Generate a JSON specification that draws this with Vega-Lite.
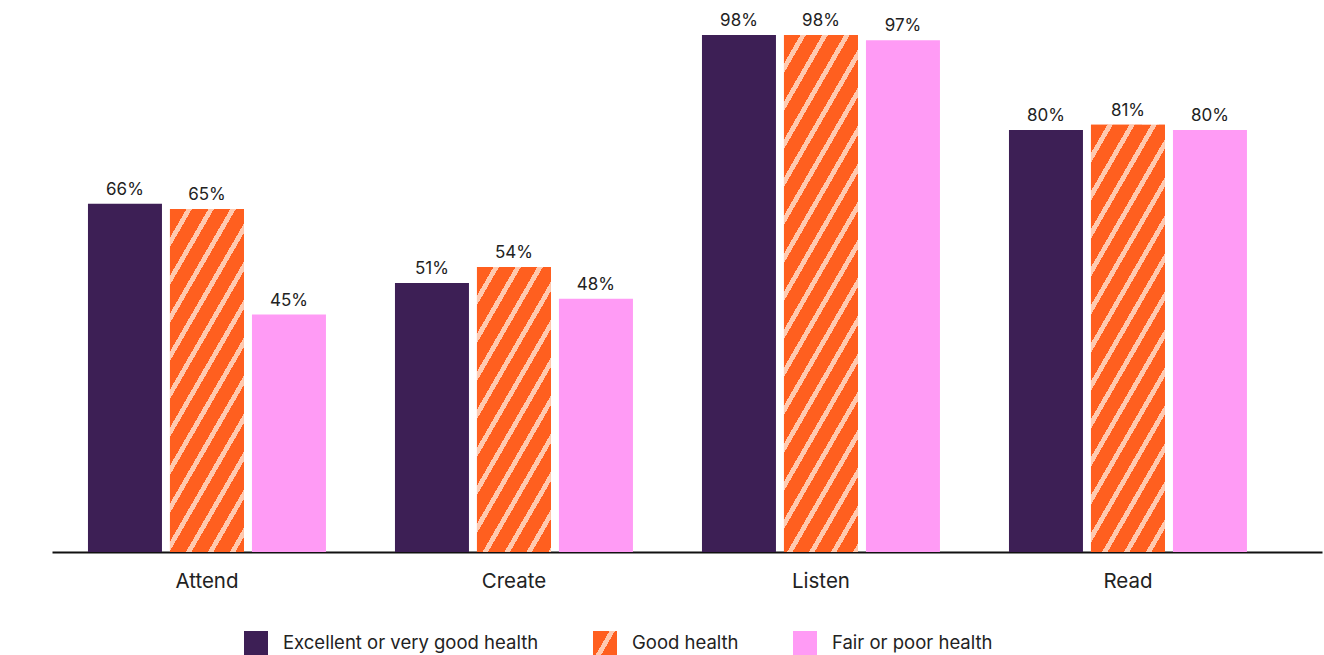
{
  "$schema": "https://vega.github.io/schema/vega-lite/v6.json",
  "width": 1270,
  "height": 527.6,
  "autosize": "none",
  "padding": {"left": 52, "top": 24.4, "right": 2, "bottom": 103},
  "background": "white",
  "config": {
    "view": {"stroke": null},
    "font": "Inter",
    "text": {"font": "Inter"}
  },
  "params": [
    {
      "name": "stripeStops",
      "value": [
        {"offset": 0, "color": "#FF5F1F"}, {"offset": 0.03125, "color": "#FF5F1F"}, {"offset": 0.03125, "color": "#FFC9AF"}, {"offset": 0.041667, "color": "#FFC9AF"},
        {"offset": 0.041667, "color": "#FF5F1F"}, {"offset": 0.072917, "color": "#FF5F1F"}, {"offset": 0.072917, "color": "#FFC9AF"}, {"offset": 0.083333, "color": "#FFC9AF"},
        {"offset": 0.083333, "color": "#FF5F1F"}, {"offset": 0.114583, "color": "#FF5F1F"}, {"offset": 0.114583, "color": "#FFC9AF"}, {"offset": 0.125, "color": "#FFC9AF"},
        {"offset": 0.125, "color": "#FF5F1F"}, {"offset": 0.15625, "color": "#FF5F1F"}, {"offset": 0.15625, "color": "#FFC9AF"}, {"offset": 0.166667, "color": "#FFC9AF"},
        {"offset": 0.166667, "color": "#FF5F1F"}, {"offset": 0.197917, "color": "#FF5F1F"}, {"offset": 0.197917, "color": "#FFC9AF"}, {"offset": 0.208333, "color": "#FFC9AF"},
        {"offset": 0.208333, "color": "#FF5F1F"}, {"offset": 0.239583, "color": "#FF5F1F"}, {"offset": 0.239583, "color": "#FFC9AF"}, {"offset": 0.25, "color": "#FFC9AF"},
        {"offset": 0.25, "color": "#FF5F1F"}, {"offset": 0.28125, "color": "#FF5F1F"}, {"offset": 0.28125, "color": "#FFC9AF"}, {"offset": 0.291667, "color": "#FFC9AF"},
        {"offset": 0.291667, "color": "#FF5F1F"}, {"offset": 0.322917, "color": "#FF5F1F"}, {"offset": 0.322917, "color": "#FFC9AF"}, {"offset": 0.333333, "color": "#FFC9AF"},
        {"offset": 0.333333, "color": "#FF5F1F"}, {"offset": 0.364583, "color": "#FF5F1F"}, {"offset": 0.364583, "color": "#FFC9AF"}, {"offset": 0.375, "color": "#FFC9AF"},
        {"offset": 0.375, "color": "#FF5F1F"}, {"offset": 0.40625, "color": "#FF5F1F"}, {"offset": 0.40625, "color": "#FFC9AF"}, {"offset": 0.416667, "color": "#FFC9AF"},
        {"offset": 0.416667, "color": "#FF5F1F"}, {"offset": 0.447917, "color": "#FF5F1F"}, {"offset": 0.447917, "color": "#FFC9AF"}, {"offset": 0.458333, "color": "#FFC9AF"},
        {"offset": 0.458333, "color": "#FF5F1F"}, {"offset": 0.489583, "color": "#FF5F1F"}, {"offset": 0.489583, "color": "#FFC9AF"}, {"offset": 0.5, "color": "#FFC9AF"},
        {"offset": 0.5, "color": "#FF5F1F"}, {"offset": 0.53125, "color": "#FF5F1F"}, {"offset": 0.53125, "color": "#FFC9AF"}, {"offset": 0.541667, "color": "#FFC9AF"},
        {"offset": 0.541667, "color": "#FF5F1F"}, {"offset": 0.572917, "color": "#FF5F1F"}, {"offset": 0.572917, "color": "#FFC9AF"}, {"offset": 0.583333, "color": "#FFC9AF"},
        {"offset": 0.583333, "color": "#FF5F1F"}, {"offset": 0.614583, "color": "#FF5F1F"}, {"offset": 0.614583, "color": "#FFC9AF"}, {"offset": 0.625, "color": "#FFC9AF"},
        {"offset": 0.625, "color": "#FF5F1F"}, {"offset": 0.65625, "color": "#FF5F1F"}, {"offset": 0.65625, "color": "#FFC9AF"}, {"offset": 0.666667, "color": "#FFC9AF"},
        {"offset": 0.666667, "color": "#FF5F1F"}, {"offset": 0.697917, "color": "#FF5F1F"}, {"offset": 0.697917, "color": "#FFC9AF"}, {"offset": 0.708333, "color": "#FFC9AF"},
        {"offset": 0.708333, "color": "#FF5F1F"}, {"offset": 0.739583, "color": "#FF5F1F"}, {"offset": 0.739583, "color": "#FFC9AF"}, {"offset": 0.75, "color": "#FFC9AF"},
        {"offset": 0.75, "color": "#FF5F1F"}, {"offset": 0.78125, "color": "#FF5F1F"}, {"offset": 0.78125, "color": "#FFC9AF"}, {"offset": 0.791667, "color": "#FFC9AF"},
        {"offset": 0.791667, "color": "#FF5F1F"}, {"offset": 0.822917, "color": "#FF5F1F"}, {"offset": 0.822917, "color": "#FFC9AF"}, {"offset": 0.833333, "color": "#FFC9AF"},
        {"offset": 0.833333, "color": "#FF5F1F"}, {"offset": 0.864583, "color": "#FF5F1F"}, {"offset": 0.864583, "color": "#FFC9AF"}, {"offset": 0.875, "color": "#FFC9AF"},
        {"offset": 0.875, "color": "#FF5F1F"}, {"offset": 0.90625, "color": "#FF5F1F"}, {"offset": 0.90625, "color": "#FFC9AF"}, {"offset": 0.916667, "color": "#FFC9AF"},
        {"offset": 0.916667, "color": "#FF5F1F"}, {"offset": 0.947917, "color": "#FF5F1F"}, {"offset": 0.947917, "color": "#FFC9AF"}, {"offset": 0.958333, "color": "#FFC9AF"},
        {"offset": 0.958333, "color": "#FF5F1F"}, {"offset": 0.989583, "color": "#FF5F1F"}, {"offset": 0.989583, "color": "#FFC9AF"}, {"offset": 1, "color": "#FFC9AF"}
      ]
    }
  ],
  "data": {
    "values": [
      {"category": "Attend", "group": "Excellent or very good health", "value": 0.66},
      {"category": "Attend", "group": "Good health", "value": 0.65},
      {"category": "Attend", "group": "Fair or poor health", "value": 0.45},
      {"category": "Create", "group": "Excellent or very good health", "value": 0.51},
      {"category": "Create", "group": "Good health", "value": 0.54},
      {"category": "Create", "group": "Fair or poor health", "value": 0.48},
      {"category": "Listen", "group": "Excellent or very good health", "value": 0.98},
      {"category": "Listen", "group": "Good health", "value": 0.98},
      {"category": "Listen", "group": "Fair or poor health", "value": 0.97},
      {"category": "Read", "group": "Excellent or very good health", "value": 0.80},
      {"category": "Read", "group": "Good health", "value": 0.81},
      {"category": "Read", "group": "Fair or poor health", "value": 0.80}
    ]
  },
  "encoding": {
    "x": {
      "field": "category",
      "type": "nominal",
      "sort": null,
      "scale": {"paddingInner": 0.2248, "paddingOuter": 0.1808, "align": 0.324},
      "axis": {
        "title": null,
        "orient": "bottom",
        "ticks": false,
        "labelAngle": 0,
        "labelFontSize": 20.5,
        "labelColor": "#222222",
        "labelPadding": 19,
        "domainColor": "#111111",
        "domainWidth": 2,
        "grid": false
      }
    },
    "xOffset": {
      "field": "group",
      "type": "nominal",
      "scale": {"domain": ["Excellent or very good health", "Good health", "Fair or poor health"], "paddingInner": 0.0976, "paddingOuter": 0}
    },
    "y": {
      "field": "value",
      "type": "quantitative",
      "scale": {"domain": [0, 1], "nice": false, "zero": true},
      "axis": null
    }
  },
  "layer": [
    {
      "mark": {"type": "bar"},
      "encoding": {
        "color": {
          "field": "group",
          "type": "nominal",
          "scale": {
            "domain": ["Excellent or very good health", "Good health", "Fair or poor health"],
            "range": ["#3D1F55", {"expr": "{gradient: 'linear', x1: 0, y1: 0, x2: 16.45, y2: 9.5, stops: stripeStops}"}, "#FF9BF5"]
          },
          "legend": {
            "orient": "none",
            "legendX": 192,
            "legendY": 606.6,
            "direction": "horizontal",
            "title": null,
            "padding": 0,
            "symbolType": "square",
            "symbolSize": 576,
            "symbolStrokeWidth": 0,
            "symbolOpacity": 1,
            "labelFontSize": 18.5,
            "labelColor": "#222222",
            "labelOffset": 15,
            "columnPadding": 54,
            "labelLimit": 400
          }
        }
      }
    },
    {
      "transform": [{"filter": "datum.group === 'Good health'"}],
      "mark": {
        "type": "bar",
        "fill": {"expr": "{gradient: 'linear', x1: 0, y1: 0, x2: (456 / (bandwidth('xOffset') * 0.75 / (scale('y', 0) - scale('y', datum.value)) + (scale('y', 0) - scale('y', datum.value)) * 0.25 / bandwidth('xOffset'))) * 0.866 / (scale('y', 0) - scale('y', datum.value)), y2: (456 / (bandwidth('xOffset') * 0.75 / (scale('y', 0) - scale('y', datum.value)) + (scale('y', 0) - scale('y', datum.value)) * 0.25 / bandwidth('xOffset'))) * 0.5 / bandwidth('xOffset'), stops: stripeStops}"}
      }
    },
    {
      "mark": {"type": "text", "baseline": "alphabetic", "dy": -9, "fontSize": 17, "color": "#222222"},
      "encoding": {
        "text": {"field": "value", "type": "quantitative", "format": ".0%"}
      }
    }
  ]
}
